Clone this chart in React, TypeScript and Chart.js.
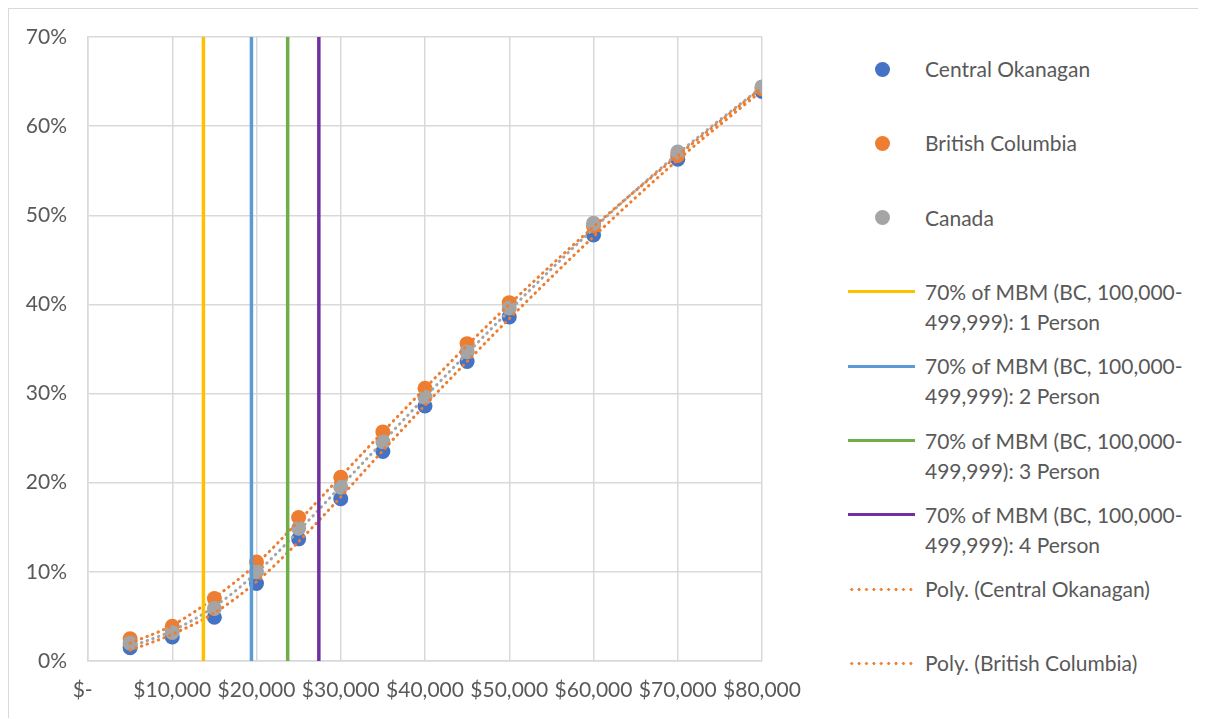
import React, { useEffect, useRef } from "react";
import { Chart, registerables } from "chart.js";

Chart.register(...registerables);

// ---- data ----
const incomes = [5000, 10000, 15000, 20000, 25000, 30000, 35000, 40000, 45000, 50000, 60000, 70000, 80000];
const centralOkanagan = [1.5, 2.7, 4.9, 8.7, 13.7, 18.2, 23.5, 28.6, 33.6, 38.6, 47.8, 56.3, 63.9];
const britishColumbia = [2.5, 3.9, 7.0, 11.1, 16.1, 20.6, 25.7, 30.6, 35.6, 40.2, 48.8, 56.7, 64.2];
const canada = [2.0, 3.2, 5.9, 10.0, 14.9, 19.5, 24.6, 29.6, 34.7, 39.6, 49.1, 57.1, 64.4];

// polynomial trend lines
const trendCentralOkanagan = [1.2, 3.0, 5.4, 8.9, 13.4, 18.4, 23.6, 28.7, 33.6, 38.4, 47.6, 56.2, 64.0];
const trendBritishColumbia = [2.0, 4.0, 7.1, 10.9, 15.7, 20.7, 25.7, 30.6, 35.4, 40.0, 48.7, 56.7, 64.3];
const trendCanada = [1.6, 3.4, 6.1, 9.9, 14.6, 19.6, 24.6, 29.6, 34.5, 39.3, 48.5, 56.9, 64.4];

const mbmLabels = [
  "70% of MBM (BC, 100,000-499,999): 1 Person",
  "70% of MBM (BC, 100,000-499,999): 2 Person",
  "70% of MBM (BC, 100,000-499,999): 3 Person",
  "70% of MBM (BC, 100,000-499,999): 4 Person",
];
const mbmValues = [13700, 19400, 23700, 27400];
const mbmRange = [0, 70];

const xTicks = [0, 10000, 20000, 30000, 40000, 50000, 60000, 70000, 80000];
const yTicks = [0, 10, 20, 30, 40, 50, 60, 70];

// ---- styles ----
const FONT = "Lato, 'Open Sans', sans-serif";
const FONT_SIZE = 21;
const TEXT = "#595959";
const GRID = "#d9d9d9";
const BLUE = "#4472C4";
const ORANGE = "#ED7D31";
const GREY = "#A5A5A5";
const mbmColors = ["#FFC000", "#5B9BD5", "#70AD47", "#7030A0"];

type LegendKind = "point" | "line" | "dots" | null;

const pts = (ys: number[]) => incomes.map((x, i) => ({ x, y: ys[i] }));

function buildDatasets() {
  const scatter = (label: string, ys: number[], color: string, order: number) => ({
    label,
    data: pts(ys),
    backgroundColor: color,
    borderColor: color,
    pointRadius: 7.5,
    pointHoverRadius: 7.5,
    pointBorderWidth: 0,
    showLine: false,
    order,
    legendKind: "point" as LegendKind,
  });
  const trend = (label: string, ys: number[], color: string, legendKind: LegendKind) => ({
    label,
    data: pts(ys),
    borderColor: color,
    backgroundColor: color,
    borderWidth: 3,
    borderDash: [0.5, 5.5],
    borderCapStyle: "round",
    pointRadius: 0,
    showLine: true,
    cubicInterpolationMode: "monotone",
    order: 1,
    legendKind,
  });
  const vline = (i: number) => ({
    label: mbmLabels[i],
    data: mbmRange.map((y) => ({ x: mbmValues[i], y })),
    borderColor: mbmColors[i],
    backgroundColor: mbmColors[i],
    borderWidth: 3.5,
    pointRadius: 0,
    showLine: true,
    order: 0,
    legendKind: "line" as LegendKind,
  });
  return [
    scatter("Central Okanagan", centralOkanagan, BLUE, 4),
    scatter("British Columbia", britishColumbia, ORANGE, 3),
    scatter("Canada", canada, GREY, 2),
    vline(0),
    vline(1),
    vline(2),
    vline(3),
    trend("Poly. (Central Okanagan)", trendCentralOkanagan, ORANGE, "dots"),
    trend("Poly. (British Columbia)", trendBritishColumbia, ORANGE, "dots"),
    trend("Poly. (Canada)", trendCanada, GREY, null),
  ];
}

const datasets = buildDatasets();

function LegendMarker({ kind, color }: { kind: LegendKind; color: string }) {
  if (kind === "point") {
    return (
      <div
        style={{
          position: "absolute",
          left: 866,
          top: -7.5,
          width: 15,
          height: 15,
          borderRadius: "50%",
          background: color,
        }}
      />
    );
  }
  if (kind === "line") {
    return (
      <div style={{ position: "absolute", left: 839, top: -1.5, width: 67, height: 3, background: color }} />
    );
  }
  return (
    <div
      style={{
        position: "absolute",
        left: 839,
        top: -1.5,
        width: 67,
        height: 3,
        backgroundImage: `radial-gradient(circle, ${color} 1.3px, transparent 1.6px)`,
        backgroundSize: "7.4px 3px",
        backgroundRepeat: "repeat-x",
      }}
    />
  );
}

export default function App() {
  const ref = useRef<HTMLCanvasElement>(null);

  useEffect(() => {
    if (!ref.current) return;
    const chart = new Chart(ref.current, {
      type: "scatter",
      data: { datasets: datasets as any },
      options: {
        animation: false,
        responsive: true,
        maintainAspectRatio: false,
        layout: { padding: { top: 28, right: 67, left: 0, bottom: 0 } },
        plugins: { legend: { display: false }, tooltip: { enabled: false } },
        scales: {
          x: {
            type: "linear",
            min: 0,
            max: 80000,
            afterBuildTicks: (s: any) => {
              s.ticks = xTicks.map((value) => ({ value }));
            },
            afterFit: (s: any) => {
              s.height = 57;
            },
            grid: { color: GRID, lineWidth: 1.5, drawTicks: false },
            border: { color: GRID, width: 1.5 },
            ticks: {
              autoSkip: false,
              maxRotation: 0,
              padding: 17,
              color: TEXT,
              font: { family: FONT, size: FONT_SIZE },
              callback: (v: any) => (Number(v) === 0 ? "$-  " : "$" + Number(v).toLocaleString("en-US")),
            },
          },
          y: {
            type: "linear",
            min: 0,
            max: 70,
            afterBuildTicks: (s: any) => {
              s.ticks = yTicks.map((value) => ({ value }));
            },
            afterFit: (s: any) => {
              s.width = 79;
            },
            grid: {
              color: GRID,
              lineWidth: 1.5,
              drawTicks: true,
              tickLength: 18,
              tickColor: "rgba(0,0,0,0)",
            },
            border: { color: GRID, width: 1.5 },
            ticks: {
              padding: 3,
              color: TEXT,
              font: { family: FONT, size: FONT_SIZE },
              callback: (v: any) => v + "%",
            },
          },
        },
      },
    });
    return () => chart.destroy();
  }, []);

  const legendItems = datasets.filter((d) => d.legendKind);

  return (
    <div
      style={{
        position: "relative",
        width: 1190,
        height: 709,
        borderTop: `1px solid ${GRID}`,
        borderLeft: `1px solid ${GRID}`,
        fontFamily: FONT,
        overflow: "hidden",
        background: "#fff",
      }}
    >
      <div style={{ position: "absolute", left: 0, top: 0, width: 820, height: 709 }}>
        <canvas ref={ref} />
      </div>
      {legendItems.map((d, i) => {
        const cy = 60 + i * 74.3;
        const lines = d.label.replace("-4", "-\n4").split("\n");
        return (
          <div key={d.label} style={{ position: "absolute", left: 0, top: cy, width: 0, height: 0 }}>
            <LegendMarker kind={d.legendKind} color={d.borderColor as string} />
            <div
              style={{
                position: "absolute",
                left: 916,
                top: -15,
                width: 280,
                fontSize: FONT_SIZE,
                lineHeight: "30px",
                color: TEXT,
                whiteSpace: "nowrap",
              }}
            >
              {lines.map((t, j) => (
                <div key={j}>{t}</div>
              ))}
            </div>
          </div>
        );
      })}
    </div>
  );
}
